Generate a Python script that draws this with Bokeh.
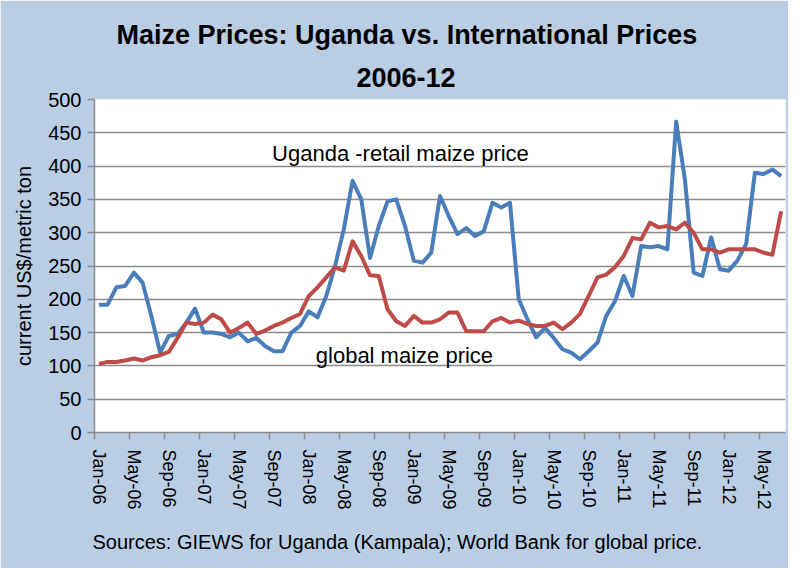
from bokeh.plotting import figure
from bokeh.models import Range1d, FixedTicker, Title, Label
from bokeh.embed import file_html
from bokeh.resources import INLINE

# ---- data (monthly, Jan-06 .. Jul-12), US$/metric ton ----
uganda = [192, 192, 218, 220, 240, 225, 175, 120, 145, 148, 165, 186,
          150, 150, 148, 143, 150, 137, 142, 130, 122, 122, 150, 160,
          182, 173, 205, 250, 305, 378, 350, 262, 310, 347, 350, 310,
          258, 255, 270, 355, 325, 298, 307, 295, 302, 345, 338, 345,
          200, 170, 143, 157, 142, 125, 120, 110, 122, 135, 175, 197,
          235, 205, 280, 278, 280, 275, 467, 380, 240, 235, 293, 245,
          243, 258, 283, 390, 388, 395, 385]
global_price = [103, 106, 106, 108, 111, 108, 113, 116, 121, 142, 165, 163,
                165, 177, 170, 150, 157, 165, 148, 153, 160, 165, 172, 178,
                205, 218, 233, 248, 243, 287, 265, 236, 235, 185, 167, 160,
                175, 165, 165, 170, 180, 180, 152, 152, 152, 167, 172, 165,
                168, 163, 160, 160, 165, 155, 165, 178, 205, 233, 237, 248,
                265, 292, 290, 315, 308, 310, 305, 315, 300, 275, 275, 270,
                275, 275, 275, 275, 270, 267, 332]
tick_labels = ["Jan-06", "May-06", "Sep-06", "Jan-07", "May-07", "Sep-07",
               "Jan-08", "May-08", "Sep-08", "Jan-09", "May-09", "Sep-09",
               "Jan-10", "May-10", "Sep-10", "Jan-11", "May-11", "Sep-11",
               "Jan-12", "May-12"]
y_ticks = [0, 50, 100, 150, 200, 250, 300, 350, 400, 450, 500]
title_line1 = "Maize Prices: Uganda vs. International Prices"
title_line2 = "2006-12"
y_label = "current US$/metric ton"
source_text = "Sources: GIEWS for Uganda (Kampala); World Bank for global price."
uganda_label = "Uganda -retail maize price"
global_label = "global maize price"

FONT = "Liberation Sans"
PANEL = "#B9CDE5"
GRID = "#8C8C8C"

n = len(uganda)
x = list(range(n))
step = 4

p = figure(width=788, height=568, output_backend="svg", toolbar_location=None,
           x_range=Range1d(-0.5, n - 0.5), y_range=Range1d(0, 500),
           min_border_left=94, min_border_right=3, min_border_top=99,
           min_border_bottom=135)
p.background_fill_color = "white"
p.border_fill_color = PANEL
p.outline_line_color = None

# titles: p.title is the outer line, the added Title sits next to the plot
p.title.text = title_line1
p.title.text_font = FONT
p.title.text_font_size = "27px"
p.title.text_font_style = "bold"
p.title.text_color = "black"
p.title.align = "left"
p.title.offset = 22
p.title.standoff = 6
t2 = Title(text=title_line2, text_font=FONT, text_font_size="27px",
           text_font_style="bold", text_color="black", align="left",
           offset=262, standoff=26)
p.add_layout(t2, "above")

# lines
p.line(x, uganda, line_color="#4A7EBB", line_width=4, line_join="round")
p.line(x, global_price, line_color="#BE4B48", line_width=4, line_join="round")

# axes
major = [i * step for i in range(len(tick_labels))]
minor = [m - 0.5 for m in major]
p.xaxis.ticker = FixedTicker(ticks=major, minor_ticks=minor)
p.xaxis.major_label_overrides = {m: lab for m, lab in zip(major, tick_labels)}
p.xaxis.major_label_orientation = "vertical"
p.xaxis.major_tick_out = 0
p.xaxis.major_tick_in = 0
p.xaxis.minor_tick_out = 7
p.xaxis.minor_tick_in = 0
p.xaxis.minor_tick_line_color = GRID
p.xaxis.minor_tick_line_width = 1.5
p.xaxis.major_label_standoff = 10
p.xaxis.major_label_text_font = FONT
p.xaxis.major_label_text_font_size = "18px"
p.xaxis.major_label_text_color = "black"

p.yaxis.ticker = FixedTicker(ticks=y_ticks)
p.yaxis.minor_tick_line_color = None
p.yaxis.major_tick_out = 7
p.yaxis.major_tick_in = 0
p.yaxis.major_label_standoff = 6
p.yaxis.major_label_text_font = FONT
p.yaxis.major_label_text_font_size = "20px"
p.yaxis.major_label_text_color = "black"
p.yaxis.axis_label = y_label
p.yaxis.axis_label_text_font = FONT
p.yaxis.axis_label_text_font_size = "20px"
p.yaxis.axis_label_text_font_style = "normal"
p.yaxis.axis_label_text_color = "black"
p.yaxis.axis_label_standoff = 10

for ax in (p.xaxis, p.yaxis):
    ax.axis_line_color = GRID
    ax.axis_line_width = 1.5
    ax.major_tick_line_color = GRID
    ax.major_tick_line_width = 1.5

p.xgrid.visible = False
p.ygrid.ticker = FixedTicker(ticks=y_ticks)
p.ygrid.grid_line_color = GRID
p.ygrid.grid_line_width = 1.6

# in-plot labels
p.add_layout(Label(x=19.8, y=419, text=uganda_label, text_font=FONT,
                   text_font_size="22px", text_color="black",
                   text_baseline="middle"))
p.add_layout(Label(x=24.8, y=116, text=global_label, text_font=FONT,
                   text_font_size="22px", text_color="black",
                   text_baseline="middle"))

# source note
src = Title(text=source_text, text_font=FONT, text_font_size="20px",
            text_font_style="normal", text_color="black", align="left",
            offset=-2, standoff=32)
p.add_layout(src, "below")

open("out.html", "w").write(file_html(p, INLINE))
